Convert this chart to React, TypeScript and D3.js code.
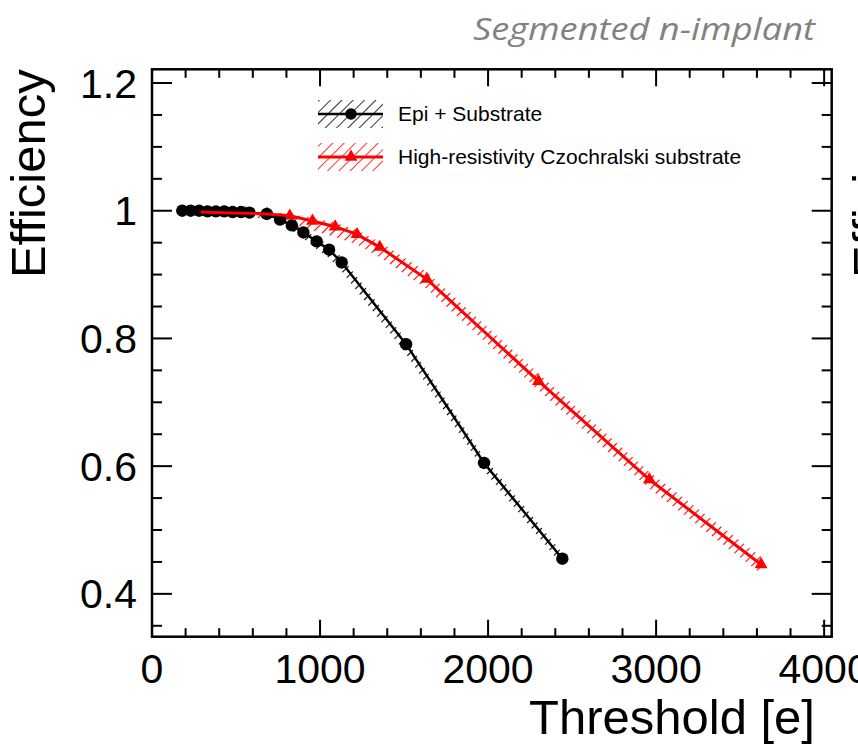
import React from "react";
import * as d3 from "d3";

// ---- data ----
const epiThreshold = [180, 230, 280, 330, 380, 430, 480, 530, 580, 683, 762, 832, 901, 980, 1054, 1129, 1512, 1976, 2442];
const epiEfficiency = [1.0, 1.0, 1.0, 0.999, 0.999, 0.999, 0.998, 0.998, 0.997, 0.995, 0.986, 0.977, 0.966, 0.952, 0.939, 0.919, 0.791, 0.605, 0.455];
const epiErrLow = [0.001, 0.001, 0.001, 0.001, 0.001, 0.001, 0.002, 0.002, 0.003, 0.004, 0.006, 0.008, 0.010, 0.012, 0.013, 0.014, 0.015, 0.012, 0.011];
const epiErrHigh = [0.001, 0.001, 0.001, 0.001, 0.001, 0.001, 0.001, 0.001, 0.001, 0.002, 0.003, 0.004, 0.005, 0.006, 0.007, 0.008, 0.007, 0.009, 0.009];

const czThreshold = [290, 420, 555, 685, 820, 955, 1090, 1220, 1355, 1635, 2300, 2960, 3625];
const czEfficiency = [0.998, 0.997, 0.996, 0.995, 0.992, 0.984, 0.975, 0.963, 0.943, 0.893, 0.733, 0.579, 0.446];
const czErrLow = [0.002, 0.003, 0.005, 0.008, 0.012, 0.015, 0.016, 0.016, 0.016, 0.015, 0.014, 0.014, 0.014];
const czErrHigh = [0.001, 0.001, 0.001, 0.002, 0.003, 0.005, 0.006, 0.007, 0.008, 0.011, 0.012, 0.012, 0.012];

const xTickValues = [0, 1000, 2000, 3000, 4000];
const xTickLabels = ["0", "1000", "2000", "3000", "4000"];
const yTickValues = [0.4, 0.6, 0.8, 1.0, 1.2];
const yTickLabels = ["0.4", "0.6", "0.8", "1", "1.2"];
const legendLabels = ["Epi + Substrate", "High-resistivity Czochralski substrate"];
const seriesColors = ["#000000", "#ff0000"];

const W = 858;
const H = 744;
const L = 152, R = 831.7, T = 69.3, B = 636.7;
const FONT = "'Liberation Sans', Arial, Helvetica, sans-serif";

export default function App() {
  const x = d3.scaleLinear().domain([0, 4045]).range([L, R]);
  const y = d3.scaleLinear().domain([0.3329, 1.2215]).range([B, T]);

  const xMinor = d3.range(0, 4045, 200).filter((v) => v % 1000 !== 0);
  const yMinor = d3.range(0, 18).map((i) => 0.35 + i * 0.05).filter((v) => v <= 1.22 && Math.abs(Math.round(v * 5) - v * 5) > 1e-6);

  const epi = epiThreshold.map((t, i) => ({ t, e: epiEfficiency[i], lo: epiErrLow[i], hi: epiErrHigh[i] }));
  const cz = czThreshold.map((t, i) => ({ t, e: czEfficiency[i], lo: czErrLow[i], hi: czErrHigh[i] }));

  type P = { t: number; e: number; lo: number; hi: number };
  const band = d3.area<P>().x((d) => x(d.t)).y0((d) => y(d.e - d.lo)).y1((d) => y(d.e + d.hi));
  const line = d3.line<P>().x((d) => x(d.t)).y((d) => y(d.e));
  const tri = d3.symbol().type(d3.symbolTriangle).size(72)();

  const majX = 17, minX = 8.5, majY = 20, minY = 10;

  return (
    <svg width={W} height={H} style={{ position: "absolute", left: 0, top: 0, background: "#fff" }} fontFamily={FONT}>
      <defs>
        <pattern id="hatchBlack" patternUnits="userSpaceOnUse" width={7} height={7} patternTransform="rotate(45)">
          <line x1={0} y1={0} x2={0} y2={7} stroke="#000" strokeWidth={2.2} />
        </pattern>
        <pattern id="hatchRed" patternUnits="userSpaceOnUse" width={7} height={7} patternTransform="rotate(45)">
          <line x1={0} y1={0} x2={0} y2={7} stroke="#ff0000" strokeWidth={2.2} />
        </pattern>
        <pattern id="hatchBlackLeg" patternUnits="userSpaceOnUse" width={8} height={8} patternTransform="rotate(45)">
          <line x1={0} y1={0} x2={0} y2={8} stroke="#000" strokeWidth={1.6} />
        </pattern>
        <pattern id="hatchRedLeg" patternUnits="userSpaceOnUse" width={8} height={8} patternTransform="rotate(45)">
          <line x1={0} y1={0} x2={0} y2={8} stroke="#ff0000" strokeWidth={1.6} />
        </pattern>
        <clipPath id="plotClip">
          <rect x={L} y={T} width={R - L} height={B - T} />
        </clipPath>
      </defs>
      <rect x={0} y={0} width={W} height={H} fill="#fff" />

      {/* header text */}
      <text x={473} y={40} fontSize={31} fontStyle="italic" fill="#828282" textLength={342} lengthAdjust="spacingAndGlyphs" fontFamily="'Open Sans', 'Liberation Sans', sans-serif" fontWeight={400}>
        Segmented n-implant
      </text>

      {/* data */}
      <g clipPath="url(#plotClip)">
        <path d={band(cz) || ""} fill="url(#hatchRed)" stroke="none" />
        {cz.map((d, i) => (
          <path key={"ct" + i} d={tri || ""} transform={`translate(${x(d.t)},${y(d.e)})`} fill={seriesColors[1]} />
        ))}
        <path d={band(epi) || ""} fill="url(#hatchBlack)" stroke="none" />
        <path d={line(epi) || ""} fill="none" stroke={seriesColors[0]} strokeWidth={2.5} />
        {epi.map((d, i) => (
          <circle key={"ec" + i} cx={x(d.t)} cy={y(d.e)} r={6.2} fill={seriesColors[0]} />
        ))}
        <path d={line(cz) || ""} fill="none" stroke={seriesColors[1]} strokeWidth={3} />
      </g>

      {/* ticks on all four sides */}
      <g stroke="#000" strokeWidth={2}>
        {xTickValues.map((v, i) => (
          <g key={"xm" + i}>
            <line x1={x(v)} x2={x(v)} y1={B} y2={B - majX} />
            <line x1={x(v)} x2={x(v)} y1={T} y2={T + majX} />
          </g>
        ))}
        {xMinor.map((v, i) => (
          <g key={"xn" + i}>
            <line x1={x(v)} x2={x(v)} y1={B} y2={B - minX} />
            <line x1={x(v)} x2={x(v)} y1={T} y2={T + minX} />
          </g>
        ))}
        {yTickValues.map((v, i) => (
          <g key={"ym" + i}>
            <line x1={L} x2={L + majY} y1={y(v)} y2={y(v)} />
            <line x1={R} x2={R - majY} y1={y(v)} y2={y(v)} />
          </g>
        ))}
        {yMinor.map((v, i) => (
          <g key={"yn" + i}>
            <line x1={L} x2={L + minY} y1={y(v)} y2={y(v)} />
            <line x1={R} x2={R - minY} y1={y(v)} y2={y(v)} />
          </g>
        ))}
      </g>

      {/* frame */}
      <rect x={L} y={T} width={R - L} height={B - T} fill="none" stroke="#000" strokeWidth={2.5} />

      {/* tick labels */}
      {xTickValues.map((v, i) => (
        <text key={"xl" + i} x={x(v)} y={683} textAnchor="middle" fontSize={41} fill="#000">
          {xTickLabels[i]}
        </text>
      ))}
      {yTickValues.map((v, i) => (
        <text key={"yl" + i} x={137} y={y(v) + 14.5} textAnchor="end" fontSize={41} fill="#000">
          {yTickLabels[i]}
        </text>
      ))}

      {/* axis titles */}
      <text x={815} y={734} textAnchor="end" fontSize={49} fill="#000">Threshold [e]</text>
      <text transform={`translate(45,${T}) rotate(-90)`} textAnchor="end" fontSize={49} fill="#000">Efficiency</text>
      <text transform={`translate(887,${T}) rotate(-90)`} textAnchor="end" fontSize={49} fill="#000">Efficiency</text>

      {/* legend */}
      <g>
        <rect x={318} y={100} width={65} height={28} fill="url(#hatchBlackLeg)" />
        <line x1={318} x2={383} y1={114} y2={114} stroke="#000" strokeWidth={2.5} />
        <circle cx={351} cy={114} r={5.8} fill="#000" />
        <text x={398} y={121} fontSize={21} fill="#000">{legendLabels[0]}</text>

        <rect x={318} y={143} width={65} height={28} fill="url(#hatchRedLeg)" />
        <line x1={318} x2={383} y1={157} y2={157} stroke="#ff0000" strokeWidth={3} />
        <path d={tri || ""} transform="translate(351,157)" fill="#ff0000" />
        <text x={398} y={164} fontSize={21} fill="#000">{legendLabels[1]}</text>
      </g>
    </svg>
  );
}
